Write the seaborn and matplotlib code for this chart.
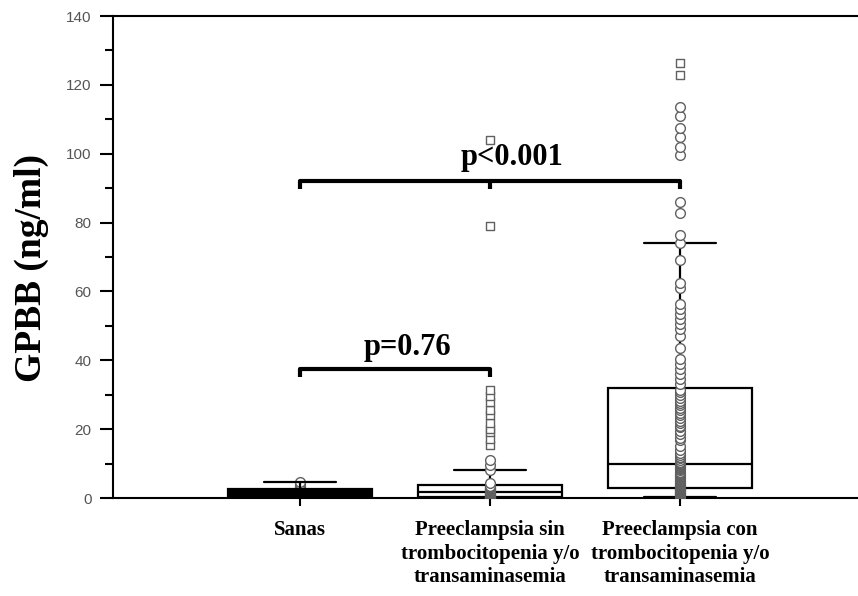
import numpy as np
import pandas as pd
import seaborn as sns
import matplotlib.pyplot as plt
from matplotlib.ticker import MultipleLocator

# categories and tick labels
groups = ['Sanas', 'PE sin', 'PE con']
tick_labels = ['Sanas',
               'Preeclampsia sin\ntrombocitopenia y/o\ntransaminasemia',
               'Preeclampsia con\ntrombocitopenia y/o\ntransaminasemia']

# GPBB (ng/ml) values
sanas = [0.0, 0.1, 0.1, 0.2, 0.2, 0.3, 0.3, 0.35, 0.4, 0.4,
         0.5, 0.6, 0.7, 0.8, 0.9, 1.0, 1.1, 1.2, 1.3, 1.4,
         1.5, 1.6, 1.7, 1.8, 1.9, 2.0, 2.2, 2.3, 2.5, 2.6,
         2.7, 2.8, 2.9, 3.0, 3.2, 3.4, 3.6, 3.9, 4.2, 4.6]

pe_sin = [0.0, 0.0, 0.05, 0.05, 0.1, 0.1, 0.1, 0.15, 0.15, 0.2, 0.2, 0.2, 0.25, 0.25, 0.3, 0.3,
          0.35, 0.4, 0.5, 0.55, 0.6, 0.7, 0.8, 0.85, 0.9, 1.0, 1.1, 1.2, 1.3, 1.4, 1.55, 1.7,
          1.9, 2.0, 2.1, 2.2, 2.3, 2.4, 2.5, 2.6, 2.7, 2.8, 2.9, 3.0, 3.1, 3.3, 3.45, 3.6,
          4.5, 8.1, 9.6, 11.0, 15.4, 17.0, 19.3, 20.0, 21.8, 24.0, 25.6, 28.0, 29.5, 31.4,
          79.0, 104.0]

pe_con = [0.2, 0.3, 0.3, 0.5, 0.6, 0.8, 0.9, 1.0, 1.1, 1.1, 1.3, 1.4, 1.5, 1.6, 1.6,
          1.8, 1.9, 2.0, 2.0, 2.2, 2.3, 2.4, 2.4, 2.5, 2.6, 2.7, 2.8, 2.9, 2.9,
          3.1, 3.2, 3.4, 3.5, 3.7, 3.9, 4.0, 4.2, 4.5, 4.6, 4.8, 5.0, 5.3, 5.5, 5.8,
          6.0, 6.3, 6.5, 6.8, 7.0, 7.4, 7.7, 8.0, 8.3, 8.6, 8.9, 9.2, 9.5, 9.8,
          10.2, 10.6, 11.0, 11.5, 12.0, 12.5, 13.0, 14.0, 15.0, 16.8, 17.5, 18.5, 19.5,
          20.5, 21.0, 21.8, 22.5, 23.2, 24.0, 24.8, 25.5, 26.2, 27.0, 27.6, 28.3, 29.0,
          30.0, 30.8, 31.5,
          33.0, 34.5, 36.0, 37.5, 39.0, 40.5, 43.5, 47.0, 49.0, 50.5, 52.0, 53.5, 55.0,
          56.5, 61.0, 62.5, 69.0, 74.0, 76.4, 82.8, 86.0, 99.5, 102.0, 105.0, 107.5,
          111.0, 113.6, 123.0, 126.4]

p_labels = ['p=0.76', 'p<0.001']

sns.set_style("ticks")
plt.rcParams['font.family'] = ['Liberation Serif', 'DejaVu Serif']
plt.rcParams['text.color'] = 'black'
plt.rcParams['axes.labelcolor'] = 'black'
plt.rcParams['xtick.color'] = 'black'
plt.rcParams['ytick.color'] = 'black'


def main():
	# squares for extreme values (beyond 3 IQR), circles for the rest
	rows = []
	for g, vals in zip(groups, [sanas, pe_sin, pe_con]):
		q1, q3 = np.percentile(vals, [25, 75])
		for v in vals:
			rows.append((g, v, 'square' if v > q3 + 3 * (q3 - q1) else 'circle'))
	df = pd.DataFrame(rows, columns=['group', 'GPBB', 'kind'])

	fig = plt.figure(figsize=(8.58, 5.96), dpi=100)
	ax = fig.add_axes([0.1317, 0.1644, 0.8683, 0.8087])

	pt_kws = dict(x='group', y='GPBB', order=groups, jitter=False, color='white',
	              edgecolor='#606060', linewidth=1, ax=ax)

	# Sanas points sit under its (black) box
	sns.stripplot(data=df[df.group == 'Sanas'], marker='o', size=7, zorder=1, **pt_kws)

	sns.boxplot(data=df, x='group', y='GPBB', order=groups, hue='group', hue_order=groups,
	            palette=['black', 'white', 'white'], legend=False, width=0.76,
	            showfliers=False, linecolor='black', linewidth=1.6, ax=ax)

	others = df[df.group != 'Sanas']
	sns.stripplot(data=others[others.kind == 'circle'], marker='o', size=7, zorder=3, **pt_kws)
	sns.stripplot(data=others[others.kind == 'square'], marker='s', size=6, zorder=3, **pt_kws)

	# significance brackets
	ax.plot([0, 0, 1, 1], [35.2, 37.5, 37.5, 35.2], color='black', lw=3, solid_capstyle='butt')
	ax.plot([0, 0, 2, 2], [89.7, 92, 92, 89.7], color='black', lw=3, solid_capstyle='butt')
	ax.plot([1, 1], [92, 89.7], color='black', lw=3, solid_capstyle='butt')
	ax.text(0.568, 41.5, p_labels[0], ha='center', va='baseline', fontsize=22, fontweight='bold')
	ax.text(1.118, 96.7, p_labels[1], ha='center', va='baseline', fontsize=22, fontweight='bold')

	ax.set_xlim(-0.984, 2.937)
	ax.set_ylim(0, 140)
	ax.yaxis.set_major_locator(MultipleLocator(20))
	ax.yaxis.set_minor_locator(MultipleLocator(10))
	ax.set_xticks(range(len(groups)))
	ax.set_xticklabels(tick_labels, fontsize=15, fontweight='bold', linespacing=1.22)
	ax.tick_params(axis='y', which='major', length=9.5, width=1.5, labelsize=11,
	               labelcolor='#555555', pad=6)
	ax.tick_params(axis='y', which='minor', length=6, width=1.5)
	ax.tick_params(axis='x', length=6, width=1.5, pad=10)
	for lab in ax.get_yticklabels():
		lab.set_family(['Liberation Sans'])

	ax.spines['right'].set_visible(False)
	for s in ['left', 'top', 'bottom']:
		ax.spines[s].set_linewidth(1.5)
		ax.spines[s].set_color('black')

	ax.set_xlabel('')
	ax.set_ylabel('GPBB (ng/ml)', fontsize=27, fontweight='bold')
	ax.yaxis.set_label_coords(-0.086, 0.477)

	plt.savefig('out.png', dpi=100)


if __name__ == '__main__':
	main()
